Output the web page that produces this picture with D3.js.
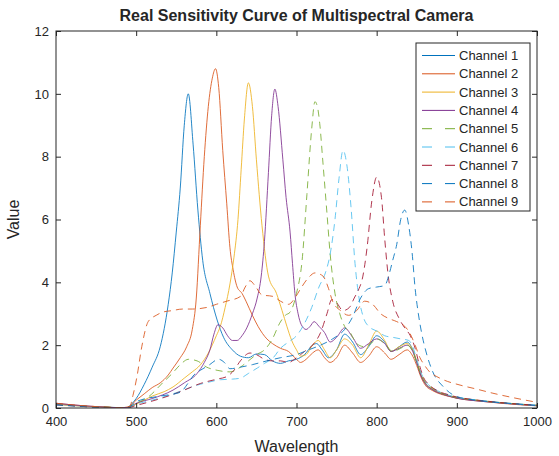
<!DOCTYPE html>
<meta charset="utf-8">
<script src="https://d3js.org/d3.v7.min.js"></script>
<style>
  body { margin: 0; background: #fff; }
  text { font-family: "Liberation Sans", Arial, sans-serif; fill: #262626; }
</style>
<div id="chart"></div>
<script>

// sensitivity curves, [wavelength, value]
const ch1 = [[400,.12],[420,.08],[440,.05],[460,.03],[480,.01],[488,0],[495,.15],[500,.3],[510,.75],[520,1.3],[530,1.95],[540,3.3],[545,4.3],[550,5.6],[555,7.0],[560,9.0],[565,10.0],[571,8.4],[577,6.3],[583,4.7],[592,3.65],[601,2.8],[609,2.25],[620,1.85],[630,1.65],[640,1.6],[650,1.72],[660,1.7],[670,1.5],[680,1.42],[690,1.5],[700,1.55],[710,1.7],[720,2.0],[725,2.05],[732,1.85],[740,1.6],[750,1.85],[760,2.35],[770,2.1],[780,1.7],[790,1.95],[800,2.3],[810,2.1],[818,1.8],[828,1.95],[838,2.1],[845,1.85],[850,1.45],[855,1.05],[860,.8],[870,.58],[880,.46],[890,.38],[900,.32],[920,.25],[940,.2],[960,.15],[980,.11],[1000,.07]];
const ch2 = [[400,.15],[420,.1],[440,.06],[460,.03],[480,.01],[490,.03],[500,.25],[510,.45],[520,.65],[530,.8],[540,1.05],[546,1.27],[555,1.6],[563,1.95],[570,2.5],[575,3.5],[580,5.8],[585,8.0],[590,9.6],[595,10.5],[599,10.8],[603,10.2],[608,8.2],[613,6.5],[617,5.1],[621,4.4],[626,3.85],[632,3.65],[637,3.4],[645,2.95],[652,2.6],[663,2.2],[670,2.05],[680,1.9],[690,1.8],[700,1.55],[705,1.45],[712,1.55],[720,1.75],[727,1.85],[735,1.6],[742,1.45],[750,1.6],[760,2.0],[770,1.75],[780,1.45],[790,1.65],[800,1.95],[810,1.75],[818,1.55],[828,1.7],[838,1.85],[845,1.65],[850,1.35],[855,1.0],[860,.75],[870,.55],[880,.44],[890,.37],[900,.31],[920,.24],[940,.19],[960,.14],[980,.1],[1000,.07]];
const ch3 = [[400,.12],[420,.08],[440,.05],[460,.03],[480,.01],[490,.02],[500,.12],[510,.25],[520,.38],[535,.52],[546,.67],[560,.95],[570,1.15],[580,1.37],[590,1.75],[600,2.3],[605,2.6],[611,3.2],[617,3.95],[622,4.8],[627,6.0],[631,7.6],[635,9.2],[640,10.35],[645,9.6],[650,7.9],[657,5.8],[665,4.2],[675,3.65],[682,3.1],[688,2.6],[694,2.15],[700,1.85],[705,1.65],[712,1.7],[720,2.0],[727,2.15],[735,1.85],[742,1.6],[750,1.85],[760,2.2],[770,2.0],[780,1.6],[790,2.0],[800,2.45],[810,2.15],[818,1.8],[828,1.95],[838,2.05],[845,1.85],[850,1.5],[855,1.1],[860,.82],[870,.6],[880,.47],[890,.39],[900,.33],[920,.26],[940,.21],[960,.16],[980,.12],[1000,.08]];
const ch4 = [[400,.15],[420,.1],[440,.06],[460,.03],[480,.01],[490,.02],[500,.15],[520,.3],[546,.57],[560,.8],[576,1.1],[585,1.45],[592,1.85],[597,2.35],[602,2.65],[608,2.55],[614,2.3],[620,2.15],[626,2.15],[632,2.3],[638,2.55],[645,3.0],[651,3.5],[656,4.2],[660,5.3],[665,7.5],[669,9.3],[673,10.15],[677,9.6],[683,7.9],[687,6.7],[692,5.6],[695,4.6],[698,3.65],[702,3.0],[706,2.65],[712,2.5],[717,2.6],[722,2.75],[728,2.6],[735,2.4],[742,2.1],[750,2.25],[760,2.55],[770,2.25],[780,1.9],[790,2.05],[800,2.2],[810,2.05],[818,1.8],[828,1.9],[838,2.0],[845,1.8],[850,1.45],[855,1.05],[860,.8],[870,.58],[880,.46],[890,.38],[900,.31],[920,.24],[940,.19],[960,.15],[980,.11],[1000,.08]];
const ch5 = [[400,.12],[420,.08],[440,.05],[460,.03],[480,.01],[490,.02],[500,.15],[515,.35],[533,.8],[545,1.1],[552,1.3],[558,1.45],[565,1.55],[576,1.5],[588,1.3],[601,1.2],[617,1.15],[630,1.3],[640,1.5],[650,1.7],[660,1.85],[670,2.2],[679,2.7],[686,2.95],[692,3.05],[700,3.65],[707,4.7],[713,6.8],[719,8.9],[723,9.75],[726,9.6],[729,9.05],[733,7.8],[738,6.2],[742,4.9],[748,3.65],[754,3.0],[760,2.6],[767,2.4],[775,2.05],[785,1.95],[795,2.1],[800,2.2],[810,2.05],[820,1.8],[830,1.9],[838,2.0],[845,1.8],[850,1.45],[855,1.1],[860,.85],[870,.62],[880,.48],[890,.4],[900,.33],[920,.26],[940,.2],[960,.16],[980,.12],[1000,.09]];
const ch6 = [[400,.1],[420,.07],[440,.04],[460,.02],[480,.01],[490,.02],[500,.12],[520,.25],[540,.4],[560,.58],[575,.72],[590,.82],[605,.9],[620,.92],[630,.95],[640,1.1],[651,1.27],[660,1.42],[671,1.6],[680,1.9],[690,2.1],[700,2.3],[708,2.6],[719,3.2],[728,3.85],[736,4.3],[742,4.9],[748,6.0],[753,7.3],[758,8.2],[763,7.7],[768,6.4],[773,4.6],[778,3.5],[784,2.85],[790,2.6],[800,2.45],[810,2.3],[820,2.25],[830,2.2],[840,2.15],[845,1.95],[850,1.55],[855,1.15],[860,.88],[870,.64],[880,.5],[890,.41],[900,.34],[920,.27],[940,.21],[960,.16],[980,.12],[1000,.09]];
const ch7 = [[400,.1],[420,.07],[440,.04],[460,.02],[480,.01],[490,.01],[500,.08],[520,.22],[540,.38],[558,.55],[580,.78],[601,.92],[613,1.0],[622,1.2],[630,1.5],[642,1.75],[650,1.7],[660,1.55],[670,1.5],[680,1.5],[690,1.45],[700,1.6],[710,1.8],[720,2.0],[730,2.4],[738,3.0],[744,3.45],[750,3.35],[758,3.1],[766,3.2],[772,3.5],[778,3.8],[782,4.1],[788,5.1],[794,6.6],[800,7.35],[806,6.7],[810,5.4],[814,4.3],[820,3.4],[828,2.85],[835,2.55],[842,2.3],[848,1.9],[853,1.4],[858,1.0],[865,.75],[875,.56],[890,.42],[900,.35],[920,.27],[940,.21],[960,.16],[980,.12],[1000,.09]];
const ch8 = [[400,.1],[420,.07],[440,.04],[460,.02],[480,.01],[490,.02],[500,.2],[505,.25],[530,.38],[555,.5],[565,.8],[572,1.05],[580,1.2],[590,1.35],[603,1.55],[610,1.45],[617,1.25],[630,1.3],[645,1.38],[663,1.5],[680,1.6],[700,1.7],[715,1.85],[730,2.0],[745,2.2],[760,2.5],[770,2.9],[780,3.5],[790,3.8],[800,3.85],[810,3.9],[816,4.3],[820,4.7],[825,5.2],[830,6.0],[835,6.3],[840,5.8],[844,5.0],[848,3.8],[852,3.0],[856,2.4],[862,1.75],[870,1.15],[883,.68],[895,.42],[910,.3],[930,.23],[950,.18],[970,.14],[1000,.08]];
const ch9 = [[400,.15],[420,.1],[440,.06],[460,.03],[480,.01],[492,.05],[496,.4],[501,1.0],[507,1.95],[515,2.75],[525,2.95],[533,3.05],[545,3.1],[558,3.15],[570,3.15],[588,3.2],[600,3.3],[613,3.4],[630,3.55],[636,3.85],[642,4.05],[648,3.9],[657,3.6],[671,3.55],[680,3.4],[690,3.3],[698,3.5],[704,3.75],[715,4.15],[723,4.3],[733,4.2],[740,3.8],[745,3.4],[755,3.1],[765,2.95],[775,3.1],[785,3.4],[795,3.3],[805,3.0],[815,2.85],[825,2.75],[835,2.6],[841,2.4],[848,2.0],[854,1.6],[860,1.35],[866,1.15],[875,1.0],[883,.9],[904,.73],[925,.6],[945,.47],[970,.33],[1000,.18]];

const names = ["Channel 1","Channel 2","Channel 3","Channel 4","Channel 5","Channel 6","Channel 7","Channel 8","Channel 9"];
const series = [ch1, ch2, ch3, ch4, ch5, ch6, ch7, ch8, ch9];
const xTicks = [400, 500, 600, 700, 800, 900, 1000];
const yTicks = [0, 2, 4, 6, 8, 10, 12];

const colors = ["#0072BD","#D95319","#EDB120","#7E2F8E","#77AC30","#4DBEEE","#A2142F","#0072BD","#D95319"];
const dashed = [false,false,false,false,true,true,true,true,true];

const margin = {top: 31, right: 22, bottom: 48, left: 56},
    W = 559, H = 456,
    width = W - margin.left - margin.right,
    height = H - margin.top - margin.bottom;

const svg = d3.select("#chart")
  .append("svg")
    .attr("width", W)
    .attr("height", H)
  .append("g")
    .attr("transform", `translate(${margin.left},${margin.top})`);

const x = d3.scaleLinear().domain([400, 1000]).range([0, width]);
const y = d3.scaleLinear().domain([0, 12]).range([height, 0]);

svg.append("defs").append("clipPath").attr("id", "clip")
  .append("rect").attr("width", width).attr("height", height);

// curves
const line = d3.line()
  .x(d => x(d[0]))
  .y(d => y(d[1]))
  .curve(d3.curveMonotoneX);

svg.append("g").attr("clip-path", "url(#clip)")
  .selectAll("path")
  .data(series)
  .join("path")
    .attr("d", line)
    .attr("fill", "none")
    .attr("stroke", (d, i) => colors[i])
    .attr("stroke-width", 1)
    .attr("stroke-opacity", 0.85)
    .attr("stroke-dasharray", (d, i) => dashed[i] ? "7,5" : null);

// axes, ticks pointing inward (matlab box style)
function styleAxis(g) {
  g.select(".domain").remove();
  g.selectAll(".tick line").attr("stroke", "#262626");
  g.selectAll(".tick text").style("font-size", "13px").attr("fill", "#262626");
}

svg.append("g")
  .attr("transform", `translate(0,${height})`)
  .call(d3.axisBottom(x).tickValues(xTicks).tickFormat(d3.format("d"))
    .tickSizeInner(-5).tickSizeOuter(0).tickPadding(9))
  .call(styleAxis);

svg.append("g")
  .call(d3.axisTop(x).tickValues(xTicks).tickSizeInner(-5).tickSizeOuter(0).tickFormat(""))
  .call(styleAxis);

svg.append("g")
  .call(d3.axisLeft(y).tickValues(yTicks).tickSizeInner(-5).tickSizeOuter(0).tickPadding(7))
  .call(styleAxis);

svg.append("g")
  .attr("transform", `translate(${width},0)`)
  .call(d3.axisRight(y).tickValues(yTicks).tickSizeInner(-5).tickSizeOuter(0).tickFormat(""))
  .call(styleAxis);

svg.append("rect")
  .attr("width", width)
  .attr("height", height)
  .attr("fill", "none")
  .attr("stroke", "#262626")
  .attr("stroke-width", 1);

// labels
svg.append("text")
  .attr("x", width / 2)
  .attr("y", -10)
  .attr("text-anchor", "middle")
  .style("font-size", "16px")
  .style("font-weight", "bold")
  .attr("fill", "#000")
  .text("Real Sensitivity Curve of Multispectral Camera");

svg.append("text")
  .attr("x", width / 2)
  .attr("y", height + 44)
  .attr("text-anchor", "middle")
  .style("font-size", "16px")
  .text("Wavelength");

svg.append("text")
  .attr("transform", "rotate(-90)")
  .attr("x", -height / 2)
  .attr("y", -37)
  .attr("text-anchor", "middle")
  .style("font-size", "16px")
  .text("Value");

// legend
const lx = 416 - margin.left, ly = 43 - margin.top, rowH = 18.3;
const legend = svg.append("g").attr("transform", `translate(${lx},${ly})`);
legend.append("rect")
  .attr("width", 114)
  .attr("height", 168)
  .attr("fill", "#fff")
  .attr("stroke", "#262626")
  .attr("stroke-width", 1);

const rows = legend.selectAll("g.row")
  .data(d3.range(names.length))
  .join("g")
    .attr("class", "row")
    .attr("transform", i => `translate(0,${12.5 + i * rowH})`);

rows.append("line")
  .attr("x1", 6).attr("x2", 39)
  .attr("stroke", i => colors[i])
  .attr("stroke-width", 1)
  .attr("stroke-dasharray", i => dashed[i] ? "10,13" : null);

rows.append("text")
  .attr("x", 43)
  .attr("dy", "0.35em")
  .style("font-size", "13px")
  .text(i => names[i]);

</script>
